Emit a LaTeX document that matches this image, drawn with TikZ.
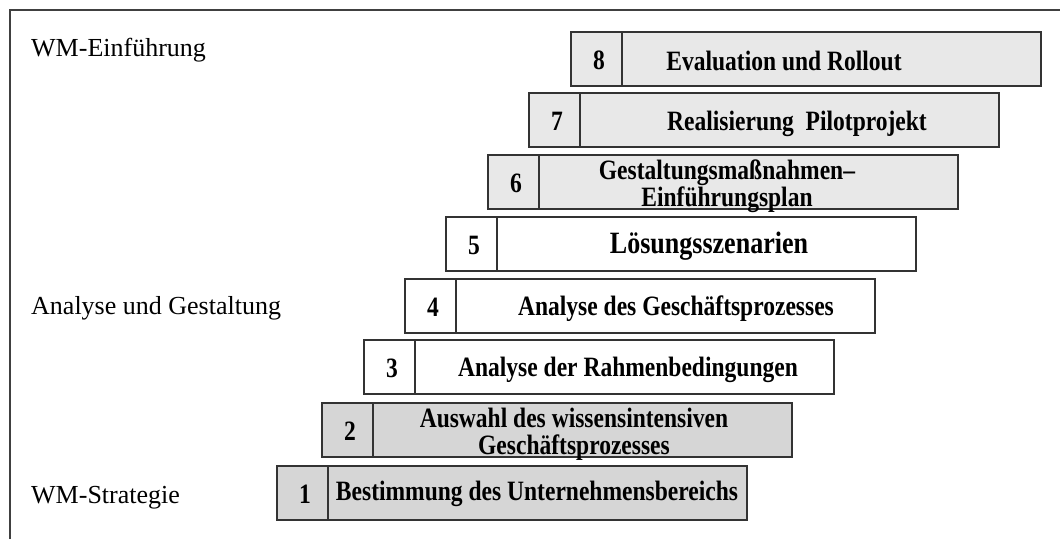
\documentclass[tikz,border=0pt]{standalone}
\usepackage{fontspec}
\setmainfont{Liberation Serif}
\newfontfamily\schmal[FakeStretch=0.84]{Liberation Serif}
\usetikzlibrary{positioning}
\definecolor{hellgrau}{HTML}{E8E8E8}
\definecolor{mittelgrau}{HTML}{D6D6D6}
\def\stufe[#1](#2,#3){\draw[stufe,fill=#1] (#2,#3) rectangle ++(470,54); \draw[stufe] (#2+51,#3) -- ++(0,54);}
\tikzset{
  stufe/.style={draw=black!80, line width=1.4pt},
  nummer/.style={font=\schmal\fontsize{28}{27}\selectfont\bfseries, anchor=base, inner sep=0pt},
  titel/.style={font=\schmal\fontsize{28}{27}\selectfont\bfseries, anchor=base, inner sep=0pt},
  zweizeilig/.style={titel, anchor=center, align=center},
  ebene/.style={font=\fontsize{26}{28}\selectfont, anchor=base west, inner sep=0pt}
}
\begin{document}
\begin{tikzpicture}[x=1pt, y=-1pt]
			%%%%% START %%%%%
			\useasboundingbox (0, 0) rectangle (1060, 539);
			
			\draw[line width=1.2pt, color=black!75] (10, 539) -- (10, 10) -- (1060, 10);
			
			\node[ebene] (einfuehrung) at (31, 56) {WM-Einführung};
			\node[ebene] (gestaltung) at (31, 314) {Analyse und Gestaltung};
			\node[ebene] (strategie) at (31, 503) {WM-Strategie};
			
			\stufe[mittelgrau](277, 466);
			\node[nummer] (n1) at (305, 503) {1};
			\node[titel] (t1) at (537, 500) {Bestimmung des Unternehmensbereichs};
			
			\stufe[mittelgrau](322, 403);
			\node[nummer] (n2) at (350, 440) {2};
			\node[zweizeilig] (t2) at (574, 434) {Auswahl des wissensintensiven\\Geschäftsprozesses};
			
			\stufe[white](364, 340);
			\node[nummer] (n3) at (392, 377) {3};
			\node[titel] (t3) at (628, 376) {Analyse der Rahmenbedingungen};
			
			\stufe[white](405, 279);
			\node[nummer] (n4) at (433, 316) {4};
			\node[titel] (t4) at (676, 315) {Analyse des Geschäftsprozesses};
			
			\stufe[white](446, 217);
			\node[nummer] (n5) at (474, 254) {5};
			\node[titel, font=\schmal\fontsize{31}{30}\selectfont\bfseries] (t5) at (709, 253) {Lösungsszenarien};
			
			\stufe[hellgrau](488, 155);
			\node[nummer] (n6) at (516, 192) {6};
			\node[zweizeilig] (t6) at (727, 186) {Gestaltungsmaßnahmen–\\Einführungsplan};
			
			\stufe[hellgrau](529, 93);
			\node[nummer] (n7) at (557, 130) {7};
			\node[titel] (t7) at (797, 130) {Realisierung~ Pilotprojekt};
			
			\stufe[hellgrau](571, 32);
			\node[nummer] (n8) at (599, 69) {8};
			\node[titel] (t8) at (784, 70) {Evaluation und Rollout};
			
			%%%%% END %%%%%
\end{tikzpicture}
\end{document}
